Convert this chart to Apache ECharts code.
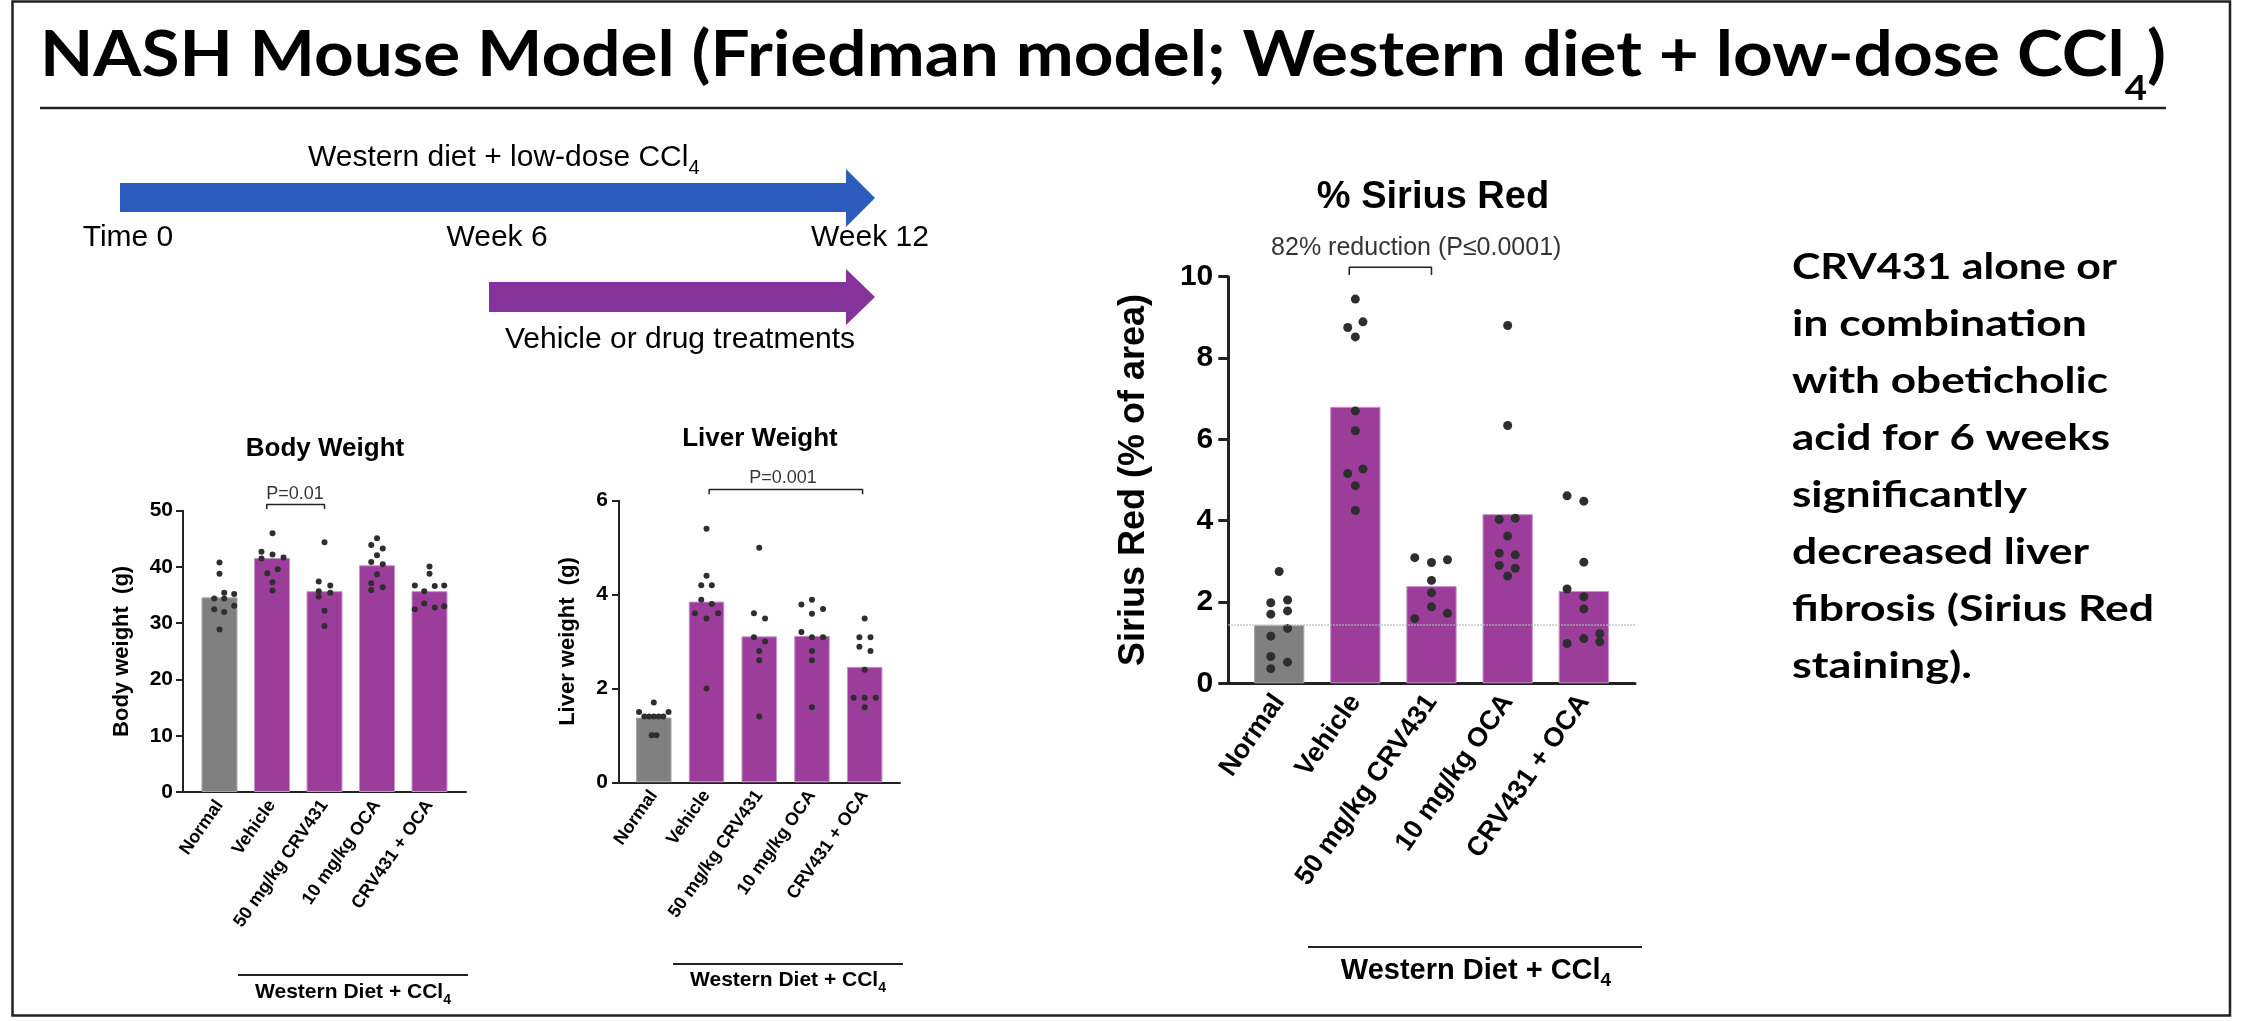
<!DOCTYPE html>
<html>
<head>
<meta charset="utf-8">
<script src="https://cdn.jsdelivr.net/npm/echarts@6/dist/echarts.min.js"></script>
<style>
html, body { margin: 0; padding: 0; background: #fff; }
#chart { width: 2242px; height: 1021px; }
</style>
</head>
<body>
<div id="chart"></div>
<script>
var chart = echarts.init(document.getElementById('chart'));

// groups on the x axis (same for the three panels)
var groups = ['Normal', 'Vehicle', '50 mg/kg CRV431', '10 mg/kg OCA', 'CRV431 + OCA'];

// Body weight (g) - bar = mean, points = single animals
var bodyMeans = [34.6, 41.6, 35.7, 40.3, 35.7];
var bodyPoints = [
  [40.8, 38.8, 34.4, 35.4, 35.2, 34.4, 32.5, 32.0, 33.1, 28.9],
  [46.0, 42.7, 42.2, 41.7, 41.5, 38.9, 39.6, 37.3, 35.8],
  [44.4, 37.4, 36.7, 35.7, 35.4, 34.7, 32.2, 29.5],
  [45.1, 43.9, 43.3, 42.1, 40.9, 40.5, 38.7, 37.1, 36.4, 35.9],
  [40.1, 38.8, 36.7, 36.7, 36.6, 35.7, 32.5, 33.5, 32.8, 33.0]
];
// horizontal spread of each point inside its bar
var bodyJitter = [
  [0, 0, -0.10, 0.09, 0.28, 0.09, -0.10, 0.09, 0.28, 0],
  [0.01, -0.20, 0.01, 0.22, -0.20, -0.09, 0.11, 0.01, 0.01],
  [0, -0.11, 0.11, -0.11, 0.11, -0.11, 0, 0],
  [0, -0.11, 0.11, 0, -0.11, 0.11, 0, -0.11, 0.11, -0.11],
  [0, 0, -0.28, 0.28, 0.10, -0.10, -0.28, -0.10, 0.10, 0.28]
];
var bodyBracket = [0.9, 2.0, 51.1, 50.3]; // left, right, top, foot
var bodyNote = [1.44, 53.0];
var bodyNoteText = 'P=0.01';

// Liver weight (g)
var liverMeans = [1.38, 3.85, 3.11, 3.12, 2.46];
var liverPoints = [
  [1.70, 1.50, 1.50, 1.40, 1.40, 1.40, 1.40, 1.40, 1.00, 1.00],
  [5.40, 4.40, 4.20, 4.20, 3.89, 3.80, 3.60, 3.60, 3.49, 2.00],
  [5.00, 3.60, 3.49, 3.09, 3.00, 2.80, 2.60, 1.40],
  [3.79, 3.89, 3.59, 3.69, 3.20, 3.09, 3.09, 2.80, 2.60, 1.60],
  [3.49, 3.09, 3.09, 2.89, 2.80, 2.40, 1.80, 1.80, 1.80, 1.60]
];
var liverJitter = [
  [0, -0.28, 0.28, -0.18, -0.09, 0, 0.09, 0.18, -0.04, 0.05],
  [0, 0, -0.10, 0.10, -0.10, 0.10, -0.22, 0.22, 0, 0],
  [0, -0.10, 0.11, -0.10, 0.11, 0, 0, 0],
  [-0.20, 0, 0, 0.21, -0.20, 0, 0.21, 0, 0, 0],
  [0, -0.10, 0.11, -0.10, 0.11, 0, -0.21, 0, 0.21, 0]
];
var liverBracket = [1.05, 3.96, 6.24, 6.14];
var liverNote = [2.45, 6.48];
var liverNoteText = 'P=0.001';

// Sirius Red (% of area)
var siriusMeans = [1.43, 6.80, 2.39, 4.16, 2.27];
var siriusPoints = [
  [2.75, 1.98, 2.05, 1.70, 1.78, 1.35, 1.16, 0.66, 0.52, 0.36],
  [9.45, 8.75, 8.89, 8.52, 6.70, 6.21, 5.16, 5.27, 4.86, 4.25],
  [3.09, 2.97, 3.04, 2.53, 2.23, 1.88, 1.59, 1.72],
  [8.80, 6.34, 4.03, 4.06, 3.62, 3.20, 3.16, 2.90, 2.83, 2.64],
  [4.61, 4.48, 2.98, 2.32, 2.13, 1.83, 1.22, 1.10, 1.02, 0.98]
];
var siriusJitter = [
  [0, -0.11, 0.11, -0.11, 0.11, 0.11, -0.11, -0.11, 0.11, -0.11],
  [0, -0.10, 0.10, 0, 0, 0, -0.10, 0.10, 0, 0],
  [-0.22, 0, 0.21, 0, 0, 0, -0.22, 0.21],
  [0, 0, -0.11, 0.10, 0, -0.11, 0.10, -0.11, 0.10, 0],
  [-0.22, 0, 0, -0.22, 0, 0, 0.21, 0, 0.21, -0.22]
];
var siriusBracket = [0.92, 2.0, 10.23, 10.04];
var siriusNote = [1.80, 10.70];
var siriusNoteText = '82% reduction (P\u22640.0001)';

var noteLines = ['CRV431 alone or', 'in combination', 'with obeticholic', 'acid for 6 weeks',
  'significantly', 'decreased liver', 'fibrosis (Sirius Red', 'staining).'];

var FONT = '"Liberation Sans", Arial, sans-serif';
var GRAY = '#808080';
var PURPLE = '#9C3D9C';

// panel layout (pixels) and styles
var panels = [
  { grid: { left: 183, top: 510.7, width: 283, height: 281.3 }, xr: [-0.695, 4.695], yMax: 50, yStep: 10,
    yName: 'Body weight  (g)', nameGap: 50, tick: 21, name: 22, cat: 18, note: 18, barW: 36, dot: 6,
    axisW: 2, tickLen: 7, margin: 10, catMargin: 10,
    means: bodyMeans, points: bodyPoints, jitter: bodyJitter, bracket: bodyBracket, notePos: bodyNote, noteText: bodyNoteText },
  { grid: { left: 619, top: 500.7, width: 281, height: 281.6 }, xr: [-0.66, 4.67], yMax: 6, yStep: 2,
    yName: 'Liver weight  (g)', nameGap: 40, tick: 21, name: 22, cat: 18, note: 18, barW: 35.5, dot: 6,
    axisW: 2, tickLen: 7, margin: 11, catMargin: 10,
    means: liverMeans, points: liverPoints, jitter: liverJitter, bracket: liverBracket, notePos: liverNote, noteText: liverNoteText },
  { grid: { left: 1228.3, top: 276.7, width: 406.7, height: 406.6 }, xr: [-0.668, 4.672], yMax: 10, yStep: 2,
    yName: 'Sirius Red (% of area)', nameGap: 76, tick: 30, name: 36, cat: 27, note: 25, barW: 50.3, dot: 9,
    axisW: 3, tickLen: 10, margin: 15, catMargin: 14, refLine: true,
    means: siriusMeans, points: siriusPoints, jitter: siriusJitter, bracket: siriusBracket, notePos: siriusNote, noteText: siriusNoteText }
];

var grids = [], xAxes = [], yAxes = [], series = [];
panels.forEach(function (p, k) {
  grids.push(Object.assign({ containLabel: false, outerBoundsMode: 'none' }, p.grid));
  xAxes.push({
    gridIndex: k, type: 'value', min: p.xr[0], max: p.xr[1],
    axisLine: { show: true, onZero: false, lineStyle: { color: '#222', width: p.axisW } },
    axisTick: { show: false }, splitLine: { show: false },
    axisLabel: {
      customValues: [0, 1, 2, 3, 4], formatter: function (v) { return groups[Math.round(v)]; },
      rotate: 55, margin: p.catMargin, fontSize: p.cat, fontWeight: 'bold', color: '#000', fontFamily: FONT
    }
  });
  yAxes.push({
    gridIndex: k, type: 'value', min: 0, max: p.yMax, interval: p.yStep,
    axisLine: { show: true, onZero: false, lineStyle: { color: '#222', width: p.axisW } },
    axisTick: { show: true, length: p.tickLen, lineStyle: { color: '#222', width: p.axisW } },
    splitLine: { show: false },
    axisLabel: { fontSize: p.tick, fontWeight: 'bold', color: '#000', margin: p.margin, fontFamily: FONT },
    name: p.yName, nameLocation: 'middle', nameGap: p.nameGap, nameRotate: 90,
    nameTextStyle: { fontSize: p.name, fontWeight: 'bold', color: '#000', fontFamily: FONT }
  });

  var bar = {
    type: 'bar', xAxisIndex: k, yAxisIndex: k, barWidth: p.barW, z: 2,
    data: p.means.map(function (v, i) {
      return { value: [i, v], itemStyle: { color: i === 0 ? GRAY : PURPLE, borderColor: i === 0 ? '#a9a9a9' : '#c893c8', borderWidth: 1 } };
    })
  };
  if (p.refLine) {
    bar.markLine = {
      silent: true, symbol: ['none', 'none'], label: { show: false },
      lineStyle: { type: 'dotted', color: '#b8b8b8', width: 1.5 },
      data: [{ yAxis: p.means[0] }]
    };
  }
  series.push(bar);

  var pts = [];
  p.points.forEach(function (g, i) {
    g.forEach(function (v, j) { pts.push([i + p.jitter[i][j], v]); });
  });
  series.push({ type: 'scatter', xAxisIndex: k, yAxisIndex: k, symbolSize: p.dot, z: 3,
    itemStyle: { color: '#2e2e2e', opacity: 1 }, data: pts });

  var b = p.bracket;
  series.push({ type: 'line', xAxisIndex: k, yAxisIndex: k, clip: false, symbol: 'none', silent: true,
    lineStyle: { color: '#222', width: 1.5 },
    data: [[b[0], b[3]], [b[0], b[2]], [b[1], b[2]], [b[1], b[3]]] });
  series.push({ type: 'scatter', xAxisIndex: k, yAxisIndex: k, clip: false, symbolSize: 0, silent: true,
    data: [p.notePos],
    label: { show: true, position: 'inside', formatter: p.noteText, fontSize: p.note, color: '#000', fontFamily: FONT } });
});

// text with a subscript 4 (CCl4)
function subText(main, after, fm, fs, drop, weight, family) {
  var pad = drop + 0.85 * (fm - fs);
  return {
    text: '{m|' + main + '}{s|4}' + (after ? '{m|' + after + '}' : ''),
    rich: {
      m: { fontSize: fm, fontWeight: weight, fontFamily: family, height: fm, verticalAlign: 'top', fill: '#000' },
      s: { fontSize: fs, fontWeight: weight, fontFamily: family, height: fs, verticalAlign: 'top', padding: [pad, 0, 0, 0], fill: '#000' }
    }
  };
}

var ctx = document.createElement('canvas').getContext('2d');
function textW(str, font) { ctx.font = font; return ctx.measureText(str).width; }

var titleMain = 'NASH Mouse Model (Friedman model; Western diet + low-dose CCl';
var titleW = textW(titleMain + ')', 'bold 63px Lato') + textW('4', 'bold 35px Lato');
var titleScale = 2126 / titleW;

var titleStyle = subText(titleMain, ')', 63, 35, 23, 'bold', 'Lato');
titleStyle.align = 'left';
titleStyle.verticalAlign = 'top';

function label(x, y, text, size, weight, align) {
  return { type: 'text', x: x, y: y, style: { text: text, fontSize: size, fontWeight: weight || 'normal',
    fontFamily: FONT, fill: '#000', align: align || 'center', verticalAlign: 'middle' } };
}
function subLabel(x, y, main, fm, fs, drop, weight, align) {
  var st = subText(main, '', fm, fs, drop, weight, FONT);
  st.align = align || 'center';
  st.verticalAlign = 'top';
  return { type: 'text', x: x, y: y, style: st };
}
function hline(x1, x2, y, w) {
  return { type: 'line', shape: { x1: x1, y1: y, x2: x2, y2: y }, style: { stroke: '#222', lineWidth: w } };
}

var graphics = [
  { type: 'rect', shape: { x: 12.5, y: 1.5, width: 2217.5, height: 1014 }, style: { fill: 'none', stroke: '#222', lineWidth: 2.5 } },
  { type: 'text', x: 40, y: 24, scaleX: titleScale, originX: 0, originY: 0, style: titleStyle },
  hline(40, 2166, 108, 2.5),
  // timeline
  { type: 'polygon', shape: { points: [[120, 183], [846, 183], [846, 169], [875, 198], [846, 227], [846, 212], [120, 212]] }, style: { fill: '#2D5BBE' } },
  { type: 'polygon', shape: { points: [[489, 282], [846, 282], [846, 269], [875, 297], [846, 325], [846, 312], [489, 312]] }, style: { fill: '#84339A' } },
  subLabel(308, 143, 'Western diet + low-dose CCl', 30, 20, 7, 'normal', 'left'),
  label(128, 238, 'Time 0', 30),
  label(497, 238, 'Week 6', 30),
  label(870, 238, 'Week 12', 30),
  label(680, 340, 'Vehicle or drug treatments', 30),
  // panel titles
  label(325, 449, 'Body Weight', 26, 'bold'),
  label(760, 439, 'Liver Weight', 26, 'bold'),
  label(1433, 198, '% Sirius Red', 38, 'bold'),
  // group brackets under the axes
  hline(238, 468, 975, 1.8),
  subLabel(353, 982, 'Western Diet + CCl', 21, 14, 5, 'bold'),
  hline(673, 903, 964, 1.8),
  subLabel(788, 970, 'Western Diet + CCl', 21, 14, 5, 'bold'),
  hline(1308, 1642, 947, 2.2),
  subLabel(1476, 956, 'Western Diet + CCl', 29, 19, 7, 'bold')
];

// right hand text, one line at a time, squeezed to the widths of the slide font
var lineWidths = [325, 295, 316, 318, 235, 297, 362, 180];
noteLines.forEach(function (t, i) {
  graphics.push({ type: 'text', x: 1792, y: 239 + 57 * i, scaleX: lineWidths[i] / textW(t, 'bold 36px Lato'),
    originX: 0, originY: 0,
    style: { text: t, fontSize: 36, fontWeight: 'bold', fontFamily: 'Lato', lineHeight: 57,
      fill: '#000', align: 'left', verticalAlign: 'top' } });
});

var option = {
  animation: false,
  backgroundColor: '#fff',
  grid: grids,
  xAxis: xAxes,
  yAxis: yAxes,
  series: series,
  graphic: { elements: graphics }
};

chart.setOption(option);
</script>
</body>
</html>
